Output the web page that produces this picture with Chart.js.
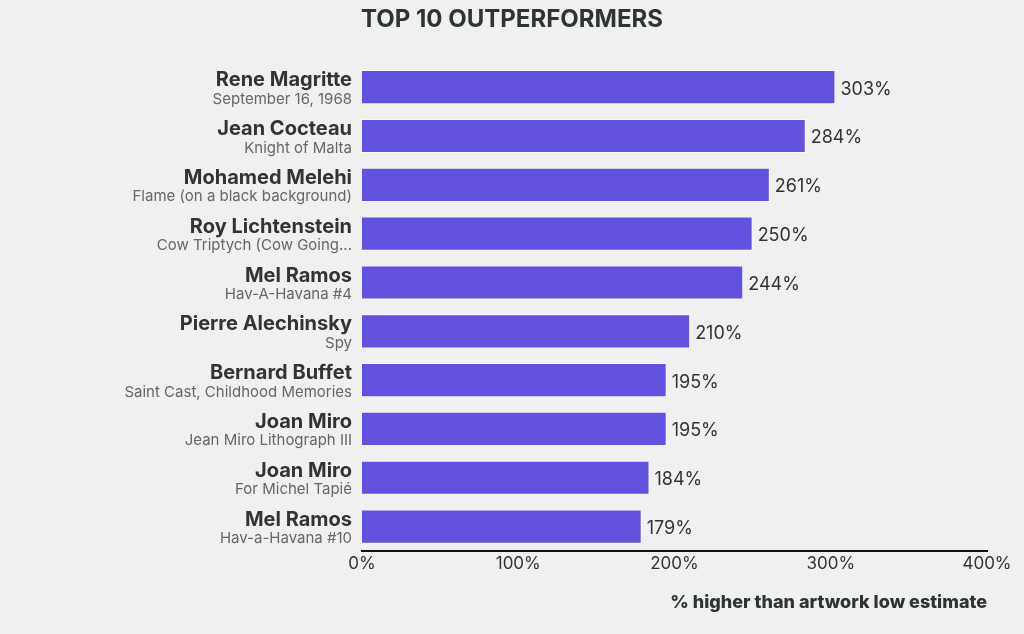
<!DOCTYPE html>
<html>
<head>
<meta charset="utf-8">
<script src="https://cdn.jsdelivr.net/npm/chart.js@4.4.0/dist/chart.umd.min.js"></script>
<style>
  html, body { margin: 0; padding: 0; background: #f0f0f0; }
  #wrap { width: 1024px; height: 634px; }
</style>
</head>
<body>
<div id="wrap"><canvas id="chart"></canvas></div>
<script>
'use strict';

let artists = ['Rene Magritte', 'Jean Cocteau', 'Mohamed Melehi', 'Roy Lichtenstein', 'Mel Ramos',
  'Pierre Alechinsky', 'Bernard Buffet', 'Joan Miro', 'Joan Miro', 'Mel Ramos'];
let artworks = ['September 16, 1968', 'Knight of Malta', 'Flame (on a black background)',
  'Cow Triptych (Cow Going...', 'Hav-A-Havana #4', 'Spy', 'Saint Cast, Childhood Memories',
  'Jean Miro Lithograph III', 'For Michel Tapié', 'Hav-a-Havana #10'];
let outperformance = [303, 284, 261, 250, 244, 210, 195, 195, 184, 179];
let xTicks = [0, 100, 200, 300, 400];

const fontFamily = 'Inter, "Noto Sans", sans-serif';

// two-line category labels + value labels at bar ends
const labelPlugin = {
  id: 'labels',
  afterDatasetsDraw(chart) {
    let ctx = chart.ctx;
    let yScale = chart.scales.y;
    let meta = chart.getDatasetMeta(0);
    ctx.save();
    ctx.textAlign = 'right';
    ctx.textBaseline = 'middle';
    for (let i = 0; i < artists.length; i++) {
      let y = yScale.getPixelForValue(i);
      let x = chart.chartArea.left - 10;
      ctx.fillStyle = '#333333';
      ctx.font = 'bold 20px ' + fontFamily;
      ctx.fillText(artists[i], x, y - 7);
      ctx.fillStyle = '#666666';
      ctx.font = '15px ' + fontFamily;
      ctx.fillText(artworks[i], x, y + 12);
    }
    ctx.textAlign = 'left';
    ctx.fillStyle = '#333333';
    ctx.font = '18px ' + fontFamily;
    meta.data.forEach((bar, i) => {
      ctx.fillText(outperformance[i] + '%', bar.x + 5, bar.y + 2);
    });
    ctx.restore();
  }
};

new Chart(document.getElementById('chart'), {
  type: 'bar',
  data: {
    labels: artists,
    datasets: [{
      data: outperformance,
      backgroundColor: '#6250df',
      borderColor: 'rgba(255,255,255,0.7)',
      borderWidth: 1,
      barPercentage: 0.7,
      categoryPercentage: 1.0
    }]
  },
  options: {
    indexAxis: 'y',
    responsive: true,
    maintainAspectRatio: false,
    animation: false,
    layout: { padding: { left: 0, right: 0, top: 0, bottom: 21 } },
    plugins: {
      legend: { display: false },
      tooltip: { enabled: false },
      title: {
        display: true,
        text: 'TOP 10 OUTPERFORMERS',
        color: '#2d3436',
        font: { family: fontFamily, size: 24, weight: 'bold' },
        padding: { top: 5, bottom: 29 }
      }
    },
    scales: {
      x: {
        min: 0,
        max: 400,
        afterBuildTicks(scale) {
          scale.ticks = xTicks.map(v => ({ value: v }));
        },
        afterFit(scale) { scale.paddingRight = 37; },
        grid: { display: false, drawTicks: false },
        border: { display: true, color: '#111111', width: 2 },
        ticks: {
          color: '#333333',
          font: { family: fontFamily, size: 17 },
          padding: 3,
          callback: v => v + '%'
        },
        title: {
          display: true,
          text: '% higher than artwork low estimate',
          align: 'end',
          color: '#2d3436',
          font: { family: fontFamily, size: 18, weight: 800 },
          padding: { top: 14, bottom: 0 }
        }
      },
      y: {
        grid: { display: false },
        border: { display: false },
        ticks: { display: false },
        afterFit(scale) { scale.width = 362; }
      }
    }
  },
  plugins: [labelPlugin]
});
</script>
</body>
</html>
